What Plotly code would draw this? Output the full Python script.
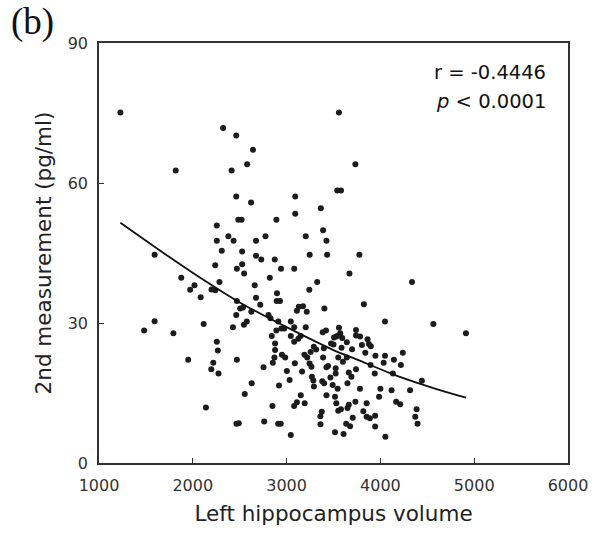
import plotly.graph_objects as go

volume = [
    1228, 2323, 2463, 2642, 2579, 1818, 2414, 3558, 2463, 2621, 3092, 3092, 3365, 3540, 3580,
    2485, 2520, 2891, 2256, 2379, 2256, 2435, 2309, 2526, 2674, 2775, 3204, 3389, 3425, 1593,
    2674, 2730, 2874, 3246, 3432, 3733, 3776,
    2239, 2470, 2526, 2547, 2940, 3081, 2821, 1877, 2018, 1972, 2284, 2200, 2240, 2084, 2660,
    3326, 3242, 2898, 2895, 2930, 2674, 2470, 2719, 2505, 2535, 2624, 2463, 2807, 3130, 3175,
    3215, 3110, 2545, 2575, 2428, 2116, 1593, 1481, 1793, 2828, 2912, 3045, 2891, 2945, 2975,
    3081, 3204, 2842, 2877, 2877, 3045, 3081, 3125, 3150, 3290, 3315, 3256, 2950, 2985, 2870,
    3190, 3220, 3088, 2256, 2267, 1951, 2218, 2197, 2274, 2470, 2754, 2853, 3003, 3245, 3265,
    3165, 3032, 3270, 3285, 3291, 2628, 2919, 2554, 3151, 3193, 3080, 3110, 2140, 2849, 3360,
    3375, 3361, 2465, 2490, 2761, 2910, 2937, 3045,
    3670, 4337, 3403, 3824, 4049, 4565, 4912, 3385, 3420, 3558, 3505, 3530, 3550, 3572, 3593,
    3642, 3740, 3740, 3783, 3863, 3877, 3898, 3803, 3474, 3500, 3698, 3839, 3586, 3947, 4049,
    4144, 4239, 4218, 4035, 3895, 3740, 3642, 3551, 3600, 3389, 3397, 3442, 3425, 3523, 3523,
    3467, 3663, 3691, 3940, 4133, 3649, 3491, 3544, 3782, 4000, 4119, 4316, 4442, 3425, 3516,
    3530, 3551, 3579, 3663, 3649, 3733, 3853, 3818, 3853, 3888, 3944, 3986, 4168, 4211, 4386,
    4372, 4396, 3705, 3635, 3677, 3944, 3516, 3607, 4053, 3380, 3400,
]
measurement = [
    75.1, 71.8, 70.2, 67.1, 64.0, 62.7, 62.7, 75.1, 57.1, 55.8, 57.1, 53.4, 54.6, 58.4, 58.4,
    52.1, 52.1, 52.1, 50.9, 48.6, 47.6, 47.6, 45.5, 45.3, 47.6, 48.6, 48.6, 49.9, 47.6, 44.6,
    44.4, 43.6, 43.6, 44.6, 44.6, 64.0, 44.6,
    42.4, 41.6, 42.6, 40.6, 41.6, 41.6, 39.7, 39.7, 38.1, 37.1, 38.8, 37.2, 37.0, 35.5, 38.1,
    38.8, 37.1, 36.4, 34.7, 34.7, 35.4, 34.7, 33.9, 33.1, 33.3, 32.4, 31.7, 31.7, 33.5, 33.6,
    32.4, 32.6, 29.6, 30.3, 29.1, 29.8, 30.4, 28.4, 27.8, 31.0, 30.3, 30.3, 28.4, 28.8, 28.8,
    29.1, 29.1, 27.2, 24.2, 25.6, 27.2, 26.0, 26.6, 27.2, 24.9, 24.3, 23.8, 23.2, 22.6, 22.6,
    23.2, 22.6, 21.4, 26.0, 24.1, 22.1, 21.5, 20.1, 19.2, 22.1, 20.5, 21.5, 19.7, 21.3, 20.6,
    19.6, 17.8, 18.5, 17.7, 16.4, 17.1, 16.6, 14.8, 14.5, 12.8, 12.2, 13.0, 11.9, 12.2, 10.0,
    11.0, 8.3, 8.4, 8.5, 8.9, 8.4, 8.4, 6.0,
    40.6, 38.8, 33.1, 34.0, 30.3, 29.8, 27.8, 28.0, 28.4, 29.0, 26.9, 27.1, 27.3, 27.8, 26.8,
    25.9, 28.5, 27.3, 27.1, 26.5, 25.5, 25.0, 25.3, 25.6, 25.4, 24.4, 23.6, 24.7, 23.0, 23.0,
    22.1, 23.6, 21.0, 21.5, 21.0, 20.1, 22.6, 22.6, 21.7, 22.6, 24.6, 20.8, 20.5, 20.3, 19.2,
    18.3, 19.4, 18.5, 19.2, 19.2, 17.1, 16.7, 15.9, 15.9, 15.9, 15.6, 15.6, 17.6, 14.5, 14.2,
    12.8, 11.2, 11.5, 12.5, 11.8, 13.1, 12.8, 11.1, 9.9, 9.6, 10.1, 14.2, 13.1, 12.6, 11.5,
    9.9, 8.4, 9.7, 8.4, 7.9, 7.8, 6.6, 6.2, 5.6, 17.5, 17.1,
]

trend_x = [1228, 1782, 2063, 2500, 3011, 3500, 3747, 4200, 4589, 4912]
trend_y = [51.5, 43.7, 39.9, 34.4, 29.0, 24.2, 22.2, 18.5, 15.9, 14.0]

x_ticks = [1000, 2000, 3000, 4000, 5000, 6000]
y_ticks = [0, 30, 60, 90]

font_main = "'DejaVu Sans', sans-serif"

fig = go.Figure()
fig.add_trace(go.Scatter(
    x=volume, y=measurement, mode="markers",
    marker=dict(size=6, color="#1c1c1c", line=dict(width=0)),
    showlegend=False,
))
fig.add_trace(go.Scatter(
    x=trend_x, y=trend_y, mode="lines",
    line=dict(color="#111111", width=1.8, shape="spline", smoothing=0.8),
    showlegend=False,
))

axis_common = dict(
    showline=True, linecolor="#333333", linewidth=1.6, mirror=True,
    ticks="inside", ticklen=5, tickwidth=1.4, tickcolor="#333333",
    showgrid=False, zeroline=False,
    tickfont=dict(family=font_main, size=16, color="#333333"),
)

fig.update_layout(
    width=600, height=538,
    margin=dict(l=99, r=26, t=43, b=75),
    paper_bgcolor="white", plot_bgcolor="white",
    xaxis=dict(
        range=[1000, 6000], tickvals=x_ticks, ticktext=[str(v) for v in x_ticks],
        ticklabelstandoff=7,
        title=dict(text="Left hippocampus volume", standoff=12,
                   font=dict(family=font_main, size=21.5, color="#222222")),
        **axis_common,
    ),
    yaxis=dict(
        range=[0, 90], tickvals=y_ticks, ticktext=[str(v) for v in y_ticks],
        ticklabelstandoff=6,
        title=dict(text="2nd measurement (pg/ml)", standoff=10,
                   font=dict(family=font_main, size=21.5, color="#222222")),
        **axis_common,
    ),
    annotations=[
        dict(text="(b)", xref="paper", yref="paper", x=-0.141, y=1.05,
             xanchor="center", yanchor="middle", showarrow=False,
             font=dict(family="Liberation Serif, serif", size=37, color="#111111")),
        dict(text="r = -0.4446", xref="paper", yref="paper", x=0.957, y=0.93,
             xanchor="right", yanchor="middle", showarrow=False,
             font=dict(family=font_main, size=19.5, color="#111111")),
        dict(text="<i>p</i> < 0.0001", xref="paper", yref="paper", x=0.957, y=0.86,
             xanchor="right", yanchor="middle", showarrow=False,
             font=dict(family=font_main, size=19.5, color="#111111")),
    ],
)

fig.write_html("out.html")
